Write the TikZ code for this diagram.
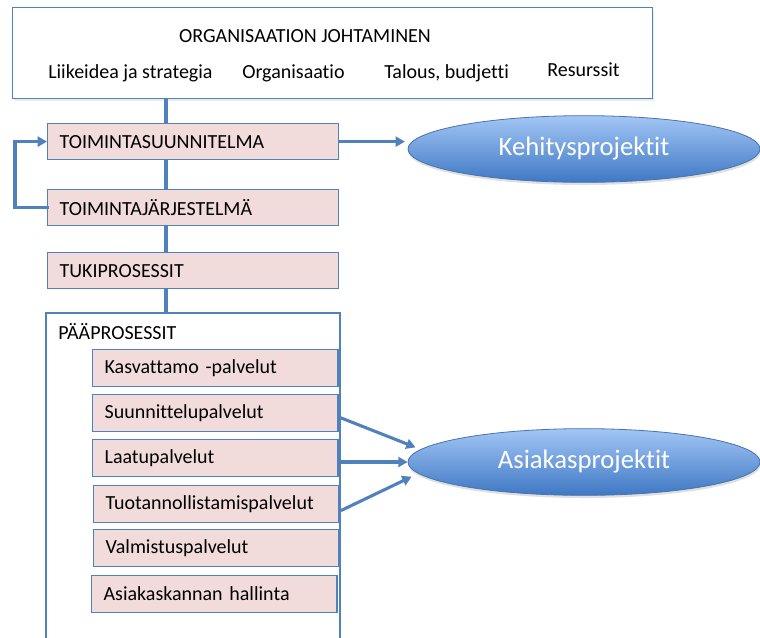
\documentclass[tikz,border=0pt]{standalone}
\usepackage{fontspec}
\setmainfont{Carlito}[Ligatures={NoCommon}]
\usetikzlibrary{arrows.meta,shapes.geometric,shadows}
\definecolor{lineblue}{HTML}{4F81BD}
\definecolor{boxpink}{HTML}{F2DCDB}
\definecolor{elltop}{HTML}{A3C6F5}
\definecolor{ellbot}{HTML}{3E78C4}
\tikzset{
  conn/.style={draw=lineblue, line width=2.3pt},
  arr/.style={conn, -{Triangle[length=7pt,width=7.5pt]}},
  stepbox/.style={draw=lineblue, line width=0.9pt, fill=boxpink, anchor=north west,
    minimum height=27pt, text width=200pt, inner xsep=9pt, align=left,
    font=\fontsize{15pt}{17pt}\selectfont},
  subbox/.style={stepbox, minimum height=27.5pt, text width=166pt},
  hdr/.style={font=\fontsize{15pt}{17pt}\selectfont, inner sep=0pt},
  project/.style={ellipse, draw=lineblue!90!black, line width=0.6pt,
    top color=elltop, bottom color=ellbot, minimum width=264pt, minimum height=50pt,
    text=white, font=\fontsize{20pt}{22pt}\selectfont,
    drop shadow={opacity=0.25, shadow xshift=0.5pt, shadow yshift=-2pt}}
}
\begin{document}
\begin{tikzpicture}[x=0.75pt, y=-0.75pt]
\useasboundingbox (0,0) rectangle (760,637);
\fill[white] (0,0) rectangle (760,637);

% vertical spine of the hierarchy
\coordinate (spine) at (166,0);
\coordinate (loop) at (15,0);

% management box
\node[draw=lineblue, line width=0.9pt, fill=white, anchor=north west,
      minimum width=480pt, minimum height=68.25pt,
      drop shadow={opacity=0.15, shadow xshift=1pt, shadow yshift=-1.5pt}] (org) at (12,7) {};
\node[hdr] (orgtitle) at (305,36) {ORGANISAATION JOHTAMINEN};
\node[hdr, anchor=west] (idea) at (48,73) {Liikeidea ja strategia};
\node[hdr, anchor=west] (orgn) at (242,73) {Organisaatio};
\node[hdr, anchor=west] (talous) at (384,73) {Talous, budjetti};
\node[hdr, anchor=west] (res) at (547,70) {Resurssit};

% planning chain
\node[stepbox] (ts) at (47,123) {TOIMINTASUUNNITELMA};
\node[stepbox] (tj) at (47,189) {TOIMINTAJÄRJESTELMÄ};
\node[stepbox] (tuki) at (47,252) {TUKIPROSESSIT};

% main process container (open at the bottom)
\coordinate (mainNW) at (46,313);
\coordinate (mainNE) at (340,313);
\draw[lineblue, line width=0.9pt] (46,640) -- (mainNW) -- (mainNE) -- (340,640);
\node[hdr, anchor=west] (paa) at (58,332) {PÄÄPROSESSIT};

\node[subbox] (kas) at (92,349) {Kasvattamo -palvelut};
\node[subbox] (suun) at (92,394) {Suunnittelupalvelut};
\node[subbox] (laatu) at (92,439) {Laatupalvelut};
\node[subbox] (tuot) at (93,485) {Tuotannollistamispalvelut};
\node[subbox] (valm) at (93,529) {Valmistuspalvelut};
\node[subbox] (asiak) at (91,575) {Asiakaskannan hallinta};

% project ellipses
\node[project] (keh) at (584,149) {Kehitysprojektit};
\node[project] (asp) at (584,462) {Asiakasprojektit};

% spine connectors
\draw[conn] (org.south -| spine) -- (ts.north -| spine);
\draw[conn] (ts.south -| spine) -- (tj.north -| spine);
\draw[conn] (tj.south -| spine) -- (tuki.north -| spine);
\draw[conn] (tuki.south -| spine) -- (mainNW -| spine);

% feedback loop
\draw[arr, line cap=rect] (tj.west) -- (tj.west -| loop) |- (ts.west);

% arrows to projects
\draw[arr] (ts.east) -- ([xshift=-2pt]ts.east -| keh.west);
\draw[arr] ([yshift=-3pt]suun.east) -- ([xshift=6pt,yshift=11pt]asp.west);
\draw[arr] (laatu.east |- asp.west) -- (asp.west);
\draw[arr] ([xshift=1pt,yshift=-5pt]tuot.east) -- ([xshift=3pt,yshift=-11pt]asp.west);
\end{tikzpicture}
\end{document}
